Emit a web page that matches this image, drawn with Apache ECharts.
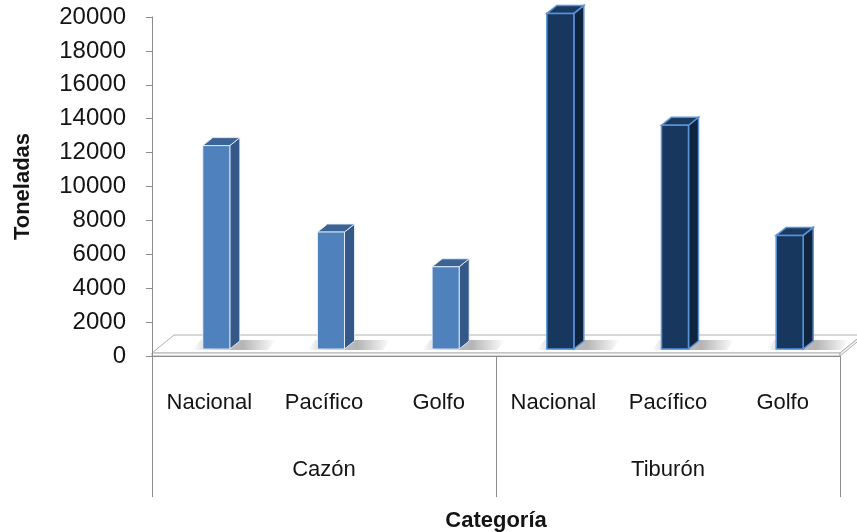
<!DOCTYPE html>
<html>
<head>
<meta charset="utf-8">
<script src="https://cdn.jsdelivr.net/npm/echarts@6/dist/echarts.min.js"></script>
<style>
  html, body { margin: 0; padding: 0; background: #fff; }
  #chart { width: 857px; height: 532px; }
</style>
</head>
<body>
<div id="chart"></div>
<script>
// Catch by species group and region (tonnes)
const groups = ['Cazón', 'Tiburón'];
const regions = ['Nacional', 'Pacífico', 'Golfo'];
const cazon = [12000, 6900, 4850];
const tiburon = [19800, 13200, 6700];
const yMin = 0, yMax = 20000, yStep = 2000;

const FONT = 'Liberation Sans';
const TEXT = '#141414';
const AXIS_GRAY = '#8c8c8c';

// flat list of sub-categories, one per bar
const categories = groups.flatMap(() => regions);

// pseudo-3D geometry (pixels)
const FACE_W = 27;     // front face width
const DEPTH_X = 10, DEPTH_Y = 8;   // bar depth projection
const SHIFT_X = 7, SHIFT_Y = -7;   // bar sits halfway back on the floor
const FLOOR_DX = 22, FLOOR_DY = -18;

function makeRender(front, side, top, edge, edgeWidth) {
  return function (params, api) {
    const idx = api.value(0);
    const base = api.coord([idx, 0]);
    const peak = api.coord([idx, api.value(1)]);
    const cx = base[0] + SHIFT_X;
    const yb = base[1] + SHIFT_Y;
    const yt = peak[1] + SHIFT_Y;
    const x0 = cx - FACE_W / 2, x1 = cx + FACE_W / 2;
    return {
      type: 'group',
      children: [
        { // soft floor shadow trailing to the right of the base
          type: 'polygon',
          shape: { points: [[x0 - 10, yb + 1], [x1 + DEPTH_X + 28, yb + 1], [x1 + DEPTH_X + 36, yb - DEPTH_Y - 1], [x0 - 2, yb - DEPTH_Y - 1]] },
          style: {
            fill: new echarts.graphic.LinearGradient(0, 0, 1, 0, [
              { offset: 0, color: 'rgba(90,90,90,0)' },
              { offset: 0.25, color: 'rgba(90,90,90,0.35)' },
              { offset: 0.6, color: 'rgba(90,90,90,0.45)' },
              { offset: 1, color: 'rgba(90,90,90,0)' }
            ])
          }
        },
        { // side face
          type: 'polygon',
          shape: { points: [[x1, yb], [x1 + DEPTH_X, yb - DEPTH_Y], [x1 + DEPTH_X, yt - DEPTH_Y], [x1, yt]] },
          style: { fill: side, stroke: edge, lineWidth: edgeWidth }
        },
        { // top face
          type: 'polygon',
          shape: { points: [[x0, yt], [x0 + DEPTH_X, yt - DEPTH_Y], [x1 + DEPTH_X, yt - DEPTH_Y], [x1, yt]] },
          style: { fill: top, stroke: edge, lineWidth: edgeWidth }
        },
        { // front face
          type: 'rect',
          shape: { x: x0, y: yt, width: FACE_W, height: yb - yt },
          style: { fill: front, stroke: edge, lineWidth: edgeWidth }
        }
      ]
    };
  };
}

const chart = echarts.init(document.getElementById('chart'), null, { renderer: 'canvas' });

chart.setOption({
  backgroundColor: '#ffffff',
  animation: false,
  grid: { left: 152, right: 17, top: 17, bottom: 176, containLabel: false, outerBoundsMode: 'none' },
  xAxis: [
    {
      type: 'category',
      data: categories,
      position: 'bottom',
      axisLine: { show: true, lineStyle: { color: AXIS_GRAY, width: 1 } },
      axisTick: { show: false },
      axisLabel: { interval: 0, margin: 36, fontFamily: FONT, fontSize: 22, color: TEXT }
    },
    {
      type: 'category',
      data: groups,
      position: 'bottom',
      axisLine: { show: false },
      axisTick: { show: true, length: 141, interval: 0, lineStyle: { color: AXIS_GRAY, width: 1 } },
      axisLabel: { interval: 0, margin: 103, fontFamily: FONT, fontSize: 22, color: TEXT },
      name: 'Categoría',
      nameLocation: 'middle',
      nameGap: 154,
      nameTextStyle: { fontFamily: FONT, fontSize: 22, fontWeight: 'bold', color: TEXT }
    }
  ],
  yAxis: {
    type: 'value',
    min: yMin, max: yMax, interval: yStep,
    axisLine: { show: true, lineStyle: { color: AXIS_GRAY, width: 1 } },
    axisTick: { show: true, length: 6, lineStyle: { color: AXIS_GRAY } },
    splitLine: { show: false },
    axisLabel: { margin: 26, fontFamily: FONT, fontSize: 24, color: TEXT, formatter: v => String(v) },
    name: 'Toneladas',
    nameLocation: 'middle',
    nameRotate: 90,
    nameGap: 118,
    nameTextStyle: { fontFamily: FONT, fontSize: 22, fontWeight: 'bold', color: TEXT }
  },
  series: [
    {
      name: groups[0],
      type: 'custom',
      z: 3,
      renderItem: makeRender('#4F81BD', '#345988', '#3B6395', 'rgba(235,242,250,0.85)', 1),
      data: cazon.map((v, i) => [i, v])
    },
    {
      name: groups[1],
      type: 'custom',
      z: 3,
      renderItem: makeRender('#17375E', '#0F253F', '#1A3A62', '#5A92D8', 1.5),
      data: tiburon.map((v, i) => [regions.length + i, v])
    }
  ]
});

// floor slab under the bars, sized from the axes
(function drawFloor() {
  const c0 = chart.convertToPixel({ xAxisIndex: 0 }, 0);
  const c1 = chart.convertToPixel({ xAxisIndex: 0 }, 1);
  const cN = chart.convertToPixel({ xAxisIndex: 0 }, categories.length - 1);
  const band = c1 - c0;
  const L = c0 - band / 2, R = cN + band / 2;
  const y0 = chart.convertToPixel({ yAxisIndex: 0 }, 0);
  const yt = y0 - 3;
  const stroke = { stroke: '#b0b0b0', lineWidth: 1 };
  chart.setOption({
    graphic: [
      {
        type: 'polygon', z: 0, silent: true,
        shape: { points: [[L, yt], [L + FLOOR_DX, yt + FLOOR_DY], [R + FLOOR_DX, yt + FLOOR_DY], [R, yt]] },
        style: Object.assign({ fill: '#ffffff' }, stroke)
      },
      {
        type: 'polygon', z: 0, silent: true,
        shape: { points: [[L, y0], [L, yt], [R, yt], [R, y0]] },
        style: Object.assign({ fill: '#fafafa' }, stroke)
      },
      {
        type: 'polygon', z: 0, silent: true,
        shape: { points: [[R, y0], [R, yt], [R + FLOOR_DX, yt + FLOOR_DY], [R + FLOOR_DX, y0 + FLOOR_DY]] },
        style: Object.assign({ fill: '#f2f2f2' }, stroke)
      }
    ]
  });
})();
</script>
</body>
</html>
